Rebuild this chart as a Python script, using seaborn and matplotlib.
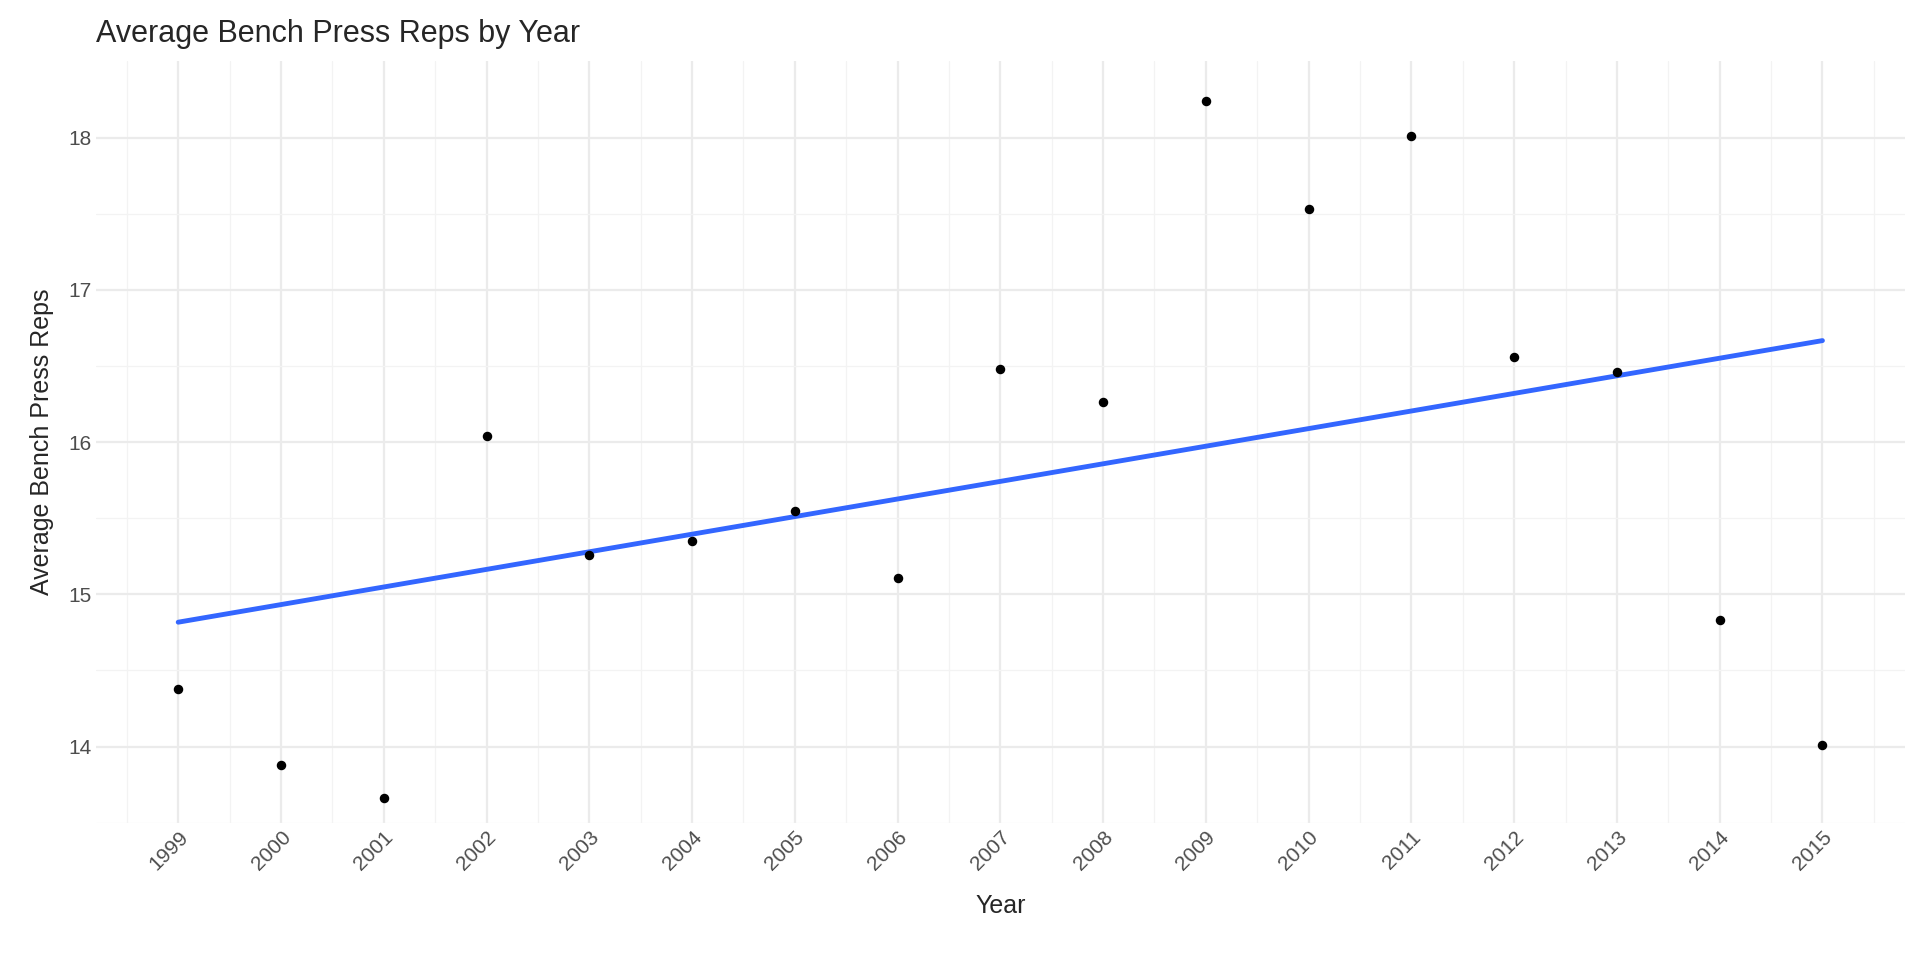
import pandas as pd
import seaborn as sns
import matplotlib.pyplot as plt
import numpy as np

# Data
years = [1999, 2000, 2001, 2002, 2003, 2004, 2005, 2006, 2007,
         2008, 2009, 2010, 2011, 2012, 2013, 2014, 2015]
avg_reps = [14.38, 13.88, 13.66, 16.04, 15.26, 15.35, 15.55, 15.11, 16.48,
            16.26, 18.24, 17.53, 18.01, 16.56, 16.46, 14.83, 14.01]

df = pd.DataFrame({"year": years, "reps": avg_reps})

sns.set_style("white")
plt.rcParams['font.family'] = ['Liberation Sans', 'DejaVu Sans']

fig, ax = plt.subplots(figsize=(19.2, 9.6), dpi=100)
sns.regplot(x="year", y="reps", data=df, ci=None, ax=ax,
            scatter_kws={"color": "black", "s": 34, "alpha": 1, "zorder": 3},
            line_kws={"color": "#3366FF", "lw": 3.5, "zorder": 2})

ax.set_xlim(1998.2, 2015.8)
ax.set_ylim(13.5, 18.5)
ax.set_xticks(years)
ax.set_xticks(np.arange(1998.5, 2016, 1.0), minor=True)
ax.set_yticks([14, 15, 16, 17, 18])
ax.set_yticks([13.5, 14.5, 15.5, 16.5, 17.5], minor=True)
ax.grid(True, which="major", color="#EBEBEB", lw=1.6)
ax.grid(True, which="minor", color="#F3F3F3", lw=0.9)
ax.set_axisbelow(True)
for s in ax.spines.values():
    s.set_visible(False)
ax.tick_params(axis="both", which="both", length=0, labelsize=15, labelcolor="#4D4D4D")
plt.setp(ax.get_xticklabels(), rotation=45, ha="right", rotation_mode="anchor")

ax.set_title("Average Bench Press Reps by Year", fontsize=22, loc="left", pad=14)
ax.set_xlabel("Year", fontsize=18, labelpad=14)
ax.set_ylabel("Average Bench Press Reps", fontsize=18, labelpad=10)

plt.subplots_adjust(left=0.05, right=0.992, top=0.936, bottom=0.143)
plt.savefig("out.png")
plt.close()
